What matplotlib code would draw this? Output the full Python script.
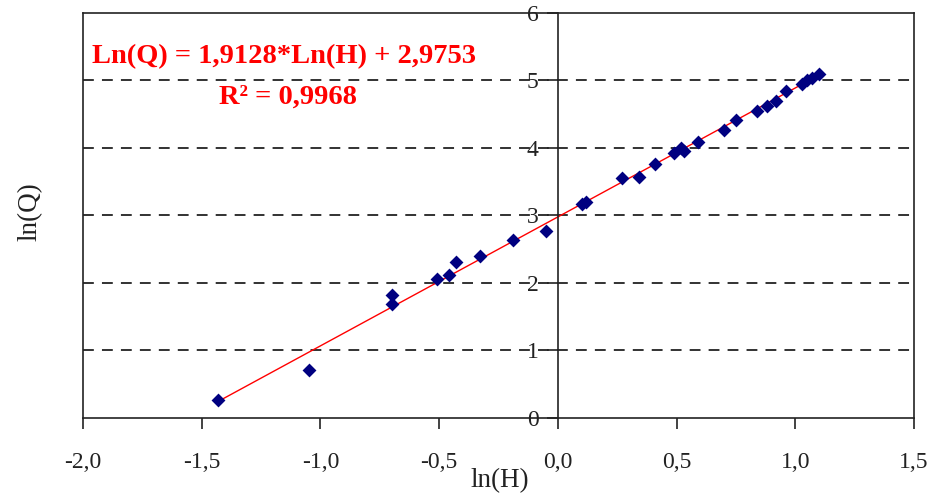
import matplotlib
matplotlib.use("Agg")
import matplotlib.pyplot as plt
import numpy as np

# Data
ln_h = [-1.43, -1.05, -0.70, -0.70, -0.51, -0.46, -0.43, -0.33, -0.19, -0.05,
        0.10, 0.12, 0.27, 0.34, 0.41, 0.49, 0.52, 0.53, 0.59, 0.70, 0.75,
        0.84, 0.88, 0.92, 0.96, 1.03, 1.05, 1.07, 1.10]
ln_q = [0.26, 0.70, 1.81, 1.69, 2.05, 2.12, 2.30, 2.40, 2.63, 2.76,
        3.16, 3.19, 3.55, 3.56, 3.76, 3.93, 4.00, 3.95, 4.09, 4.26, 4.42,
        4.54, 4.62, 4.69, 4.85, 4.95, 5.00, 5.04, 5.09]
slope = 1.9128
intercept = 2.9753
x_ticks = [-2.0, -1.5, -1.0, -0.5, 0.0, 0.5, 1.0, 1.5]
x_ticklabels = ["-2,0", "-1,5", "-1,0", "-0,5", "0,0", "0,5", "1,0", "1,5"]
y_ticks = [0, 1, 2, 3, 4, 5, 6]
y_ticklabels = ["0", "1", "2", "3", "4", "5", "6"]
eq_text = "Ln(Q) = 1,9128*Ln(H) + 2,9753"
r2_text = "R² = 0,9968"

plt.rcParams['font.family'] = ['Liberation Serif', 'DejaVu Serif']

fig = plt.figure(figsize=(9.38, 4.96), dpi=100)
ax = fig.add_axes([83/938, 1-417.5/496, (914-83)/938, (417.5-13)/496])

ax.set_xlim(-2.0, 1.5)
ax.set_ylim(0, 6)

# dashed gridlines
for yv in y_ticks[1:-1]:
    ax.axhline(yv, color='#222222', lw=1.3, ls=(0, (6, 4.5)), zorder=1)

# trendline
xs = np.array([min(ln_h), max(ln_h)])
ax.plot(xs, slope*xs + intercept, color='#FF0000', lw=1.0, zorder=2)

# points
ax.scatter(ln_h, ln_q, marker='D', s=50, color='#000080', zorder=3, linewidths=0)

# frame
for s in ['top', 'right', 'bottom']:
    ax.spines[s].set_color('#222222')
    ax.spines[s].set_linewidth(1.2)
ax.spines['left'].set_position(('data', 0))
ax.spines['left'].set_color('#222222')
ax.spines['left'].set_linewidth(1.2)
ax.axvline(-2.0, color='#222222', lw=1.2, zorder=4, clip_on=False)

ax.set_xticks(x_ticks)
ax.set_xticklabels(x_ticklabels)
ax.set_yticks(y_ticks)
ax.set_yticklabels(y_ticklabels)
ax.tick_params(axis='x', direction='out', length=8, width=1.2, pad=17,
               labelsize=17, colors='#222222')
ax.tick_params(axis='y', direction='out', length=8, width=1.2, pad=6,
               labelsize=17, colors='#222222')

fig.text(500/938, 1-481/496, "ln(H)", ha='center', va='center', fontsize=19.5,
         color='#222222')
fig.text(30/938, 1-212/496, "ln(Q)", ha='center', va='center', fontsize=19.5,
         rotation=90, color='#222222')

fig.text(92/938, 1-57/496, eq_text, color='#FF0000',
         fontsize=20.5, fontweight='bold', ha='left', va='center')
fig.text(288/938, 1-97/496, r2_text, color='#FF0000', fontsize=20.5,
         fontweight='bold', ha='center', va='center')

fig.savefig("out.png", dpi=100)
